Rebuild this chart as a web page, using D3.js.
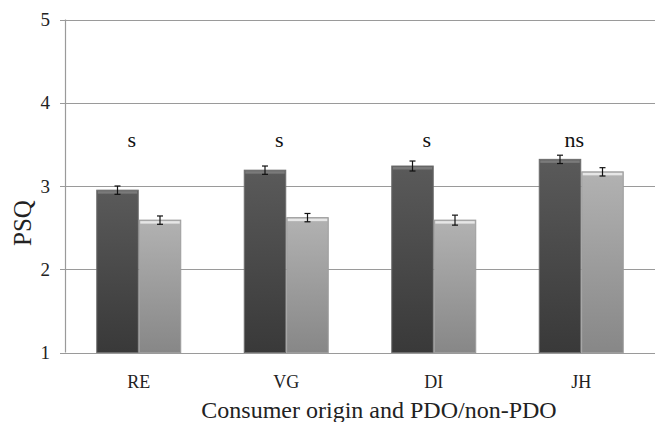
<!DOCTYPE html>
<html>
<head>
<meta charset="utf-8">
<script src="https://cdn.jsdelivr.net/npm/d3@7"></script>
<style>
  body { margin: 0; background: #fff; }
  svg { display: block; font-family: "Liberation Serif", "DejaVu Serif", serif; }
</style>
</head>
<body>
<div id="chart"></div>
<script>
// data
const categories = ['RE', 'VG', 'DI', 'JH'];
const pdoValues = [2.95, 3.19, 3.24, 3.32];
const nonPdoValues = [2.59, 2.62, 2.59, 3.17];
const pdoErr = [0.05, 0.05, 0.06, 0.05];
const nonPdoErr = [0.05, 0.05, 0.06, 0.05];
const sigLabels = ['s', 's', 's', 'ns'];
const yTicks = [1, 2, 3, 4, 5];

const width = 655, height = 422;
const margin = { top: 19.5, right: 0, bottom: 69.5, left: 65 };

const svg = d3.select('#chart').append('svg')
  .attr('width', width)
  .attr('height', height);

// gradients for the shaded bars
const defs = svg.append('defs');
function grad(id, top, bottom) {
  const g = defs.append('linearGradient').attr('id', id)
    .attr('x1', 0).attr('y1', 0).attr('x2', 0).attr('y2', 1);
  g.append('stop').attr('offset', '0%').attr('stop-color', top);
  g.append('stop').attr('offset', '100%').attr('stop-color', bottom);
}
grad('gDark', '#5a5a5a', '#393939');
grad('gLight', '#b2b2b2', '#878787');

const y = d3.scaleLinear().domain([1, 5]).range([height - margin.bottom, margin.top]);
const x0 = d3.scaleBand().domain(categories)
  .range([margin.left, width - margin.right])
  .paddingInner(0.4237).paddingOuter(0.21185);
const x1 = d3.scaleBand().domain(['pdo', 'non']).range([0, x0.bandwidth()]);

// gridlines
svg.append('g').selectAll('line')
  .data(yTicks)
  .enter().append('line')
  .attr('x1', margin.left - 5)
  .attr('x2', width)
  .attr('y1', d => Math.round(y(d)) + 0.5)
  .attr('y2', d => Math.round(y(d)) + 0.5)
  .attr('stroke', '#9a9a9a')
  .attr('stroke-width', 1.2);

// y axis line
svg.append('line')
  .attr('x1', margin.left + 0.5).attr('x2', margin.left + 0.5)
  .attr('y1', y(5)).attr('y2', y(1))
  .attr('stroke', '#9a9a9a').attr('stroke-width', 1.2);

// y tick labels
svg.append('g').selectAll('text')
  .data(yTicks)
  .enter().append('text')
  .attr('x', 50)
  .attr('y', d => y(d) + 6.5)
  .attr('text-anchor', 'end')
  .attr('font-size', 19)
  .attr('fill', '#222')
  .text(d => d);

// bars
const rows = categories.map((c, i) => ({
  cat: c,
  bars: [
    { key: 'pdo', v: pdoValues[i], e: pdoErr[i] },
    { key: 'non', v: nonPdoValues[i], e: nonPdoErr[i] }
  ]
}));

const groups = svg.selectAll('g.grp')
  .data(rows)
  .enter().append('g')
  .attr('class', 'grp')
  .attr('transform', d => 'translate(' + x0(d.cat) + ',0)');

const bar = groups.selectAll('g.bar')
  .data(d => d.bars)
  .enter().append('g')
  .attr('class', 'bar');

bar.append('rect')
  .attr('x', d => x1(d.key) + 0.5)
  .attr('y', d => y(d.v))
  .attr('width', x1.bandwidth() - 1)
  .attr('height', d => y(1) - y(d.v))
  .attr('fill', d => d.key === 'pdo' ? 'url(#gDark)' : 'url(#gLight)')
  .attr('stroke', d => d.key === 'pdo' ? '#6e6e6e' : '#9c9c9c')
  .attr('stroke-width', 1);

// top highlight
bar.append('rect')
  .attr('x', d => x1(d.key) + 1.5)
  .attr('y', d => y(d.v) + 1)
  .attr('width', x1.bandwidth() - 3)
  .attr('height', 2.5)
  .attr('fill', d => d.key === 'pdo' ? '#7a7a7a' : '#e6e6e6');

// error bars
const eb = bar.append('g').attr('stroke', '#111').attr('stroke-width', 1.2);
eb.append('line')
  .attr('x1', d => x1(d.key) + x1.bandwidth() / 2)
  .attr('x2', d => x1(d.key) + x1.bandwidth() / 2)
  .attr('y1', d => y(d.v + d.e))
  .attr('y2', d => y(d.v - d.e));
eb.selectAll('line.cap')
  .data(d => [{ key: d.key, yy: d.v + d.e }, { key: d.key, yy: d.v - d.e }])
  .enter().append('line')
  .attr('class', 'cap')
  .attr('x1', d => x1(d.key) + x1.bandwidth() / 2 - 3)
  .attr('x2', d => x1(d.key) + x1.bandwidth() / 2 + 3)
  .attr('y1', d => y(d.yy))
  .attr('y2', d => y(d.yy));

// significance labels
svg.append('g').selectAll('text')
  .data(categories)
  .enter().append('text')
  .attr('x', d => x0(d) + x0.bandwidth() / 2 - 7)
  .attr('y', 147)
  .attr('text-anchor', 'middle')
  .attr('font-size', 22)
  .attr('fill', '#111')
  .text((d, i) => sigLabels[i]);

// category labels
svg.append('g').selectAll('text')
  .data(categories)
  .enter().append('text')
  .attr('x', d => x0(d) + x0.bandwidth() / 2)
  .attr('y', 388)
  .attr('text-anchor', 'middle')
  .attr('font-size', 18)
  .attr('fill', '#222')
  .text(d => d);

// axis titles
svg.append('text')
  .attr('x', 379)
  .attr('y', 418)
  .attr('text-anchor', 'middle')
  .attr('font-size', 24)
  .attr('fill', '#222')
  .text('Consumer origin and PDO/non-PDO');

svg.append('text')
  .attr('transform', 'translate(31,223) rotate(-90)')
  .attr('text-anchor', 'middle')
  .attr('font-size', 25)
  .attr('fill', '#222')
  .text('PSQ');
</script>
</body>
</html>
